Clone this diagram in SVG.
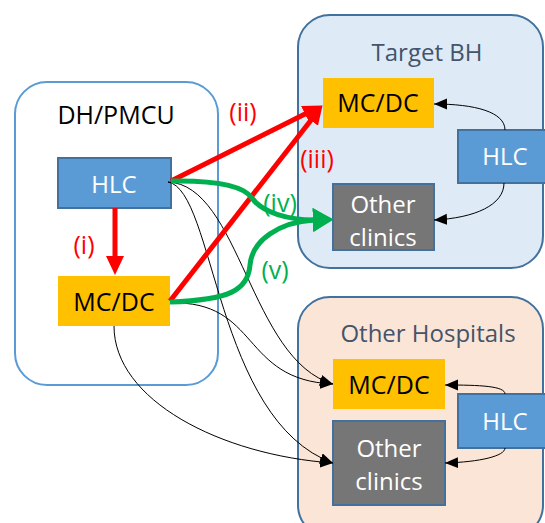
<svg xmlns="http://www.w3.org/2000/svg" width="545" height="523" viewBox="0 0 545 523">
<style>
text{font-family:"Open Sans","Liberation Sans",sans-serif;text-anchor:middle}
.grp{stroke-width:2}
.hlc{fill:#5B9BD5;stroke:#41719C;stroke-width:2}
.mc{fill:#FFC000}
.oc{fill:#767676;stroke:#41719C;stroke-width:2}
.wt{fill:#fff;font-size:24px}
.bt{fill:#000;font-size:25px}
.gl{fill:#44546A;font-size:24px}
.red{stroke:#FF0000;stroke-width:5;fill:none}
.grn{stroke:#00B050;stroke-width:5;fill:none}
.thin{stroke:#000;stroke-width:1;fill:none;marker-end:url(#ab)}
.rl{fill:#FF0000;font-size:25px}
.gn{fill:#00B050;font-size:25px}
</style>
<defs>
<marker id="ar" markerUnits="userSpaceOnUse" markerWidth="20" markerHeight="20" refX="1" refY="9" orient="auto"><path d="M0,0 L19,9 L0,18 z" fill="#FF0000"/></marker>
<marker id="ag" markerUnits="userSpaceOnUse" markerWidth="22" markerHeight="26" refX="1" refY="12" orient="auto"><path d="M0,0 L20,12 L0,24 z" fill="#00B050"/></marker>
<marker id="ab" markerUnits="userSpaceOnUse" markerWidth="14" markerHeight="12" refX="13" refY="5.5" orient="auto"><path d="M0,0 L13,5.5 L0,11 z" fill="#000"/></marker>
</defs>

<g id="dh">
<rect class="grp" x="15" y="82" width="203" height="303" rx="32" fill="#fff" stroke="#5B9BD5"/>
<text class="bt" x="116" y="124">DH/PMCU</text>
</g>
<g id="target">
<rect class="grp" x="298" y="15" width="245" height="253" rx="32" fill="#DEEBF7" stroke="#41719C"/>
<text class="gl" x="427" y="61">Target BH</text>
</g>
<g id="other-hospitals">
<rect class="grp" x="298" y="297" width="245" height="240" rx="32" fill="#FBE5D6" stroke="#41719C"/>
<text class="gl" x="428" y="342">Other Hospitals</text>
</g>

<g id="dh-hlc"><rect class="hlc" x="58" y="158" width="113" height="50"/><text class="wt" x="114" y="193">HLC</text></g>
<g id="dh-mcdc"><rect class="mc" x="58" y="276" width="112" height="50"/><text class="bt" x="114" y="311">MC/DC</text></g>

<g id="t-mcdc"><rect class="mc" x="323" y="78" width="111" height="50"/><text class="bt" x="378" y="112">MC/DC</text></g>
<g id="t-hlc"><rect class="hlc" x="458" y="130" width="95" height="53"/><text class="wt" x="505" y="165">HLC</text></g>
<g id="t-oc"><rect class="oc" x="333" y="184" width="101" height="66"/><text class="wt" x="383" y="213">Other</text><text class="wt" x="383" y="246">clinics</text></g>

<g id="o-mcdc"><rect class="mc" x="333" y="359" width="112" height="50"/><text class="bt" x="389" y="394">MC/DC</text></g>
<g id="o-hlc"><rect class="hlc" x="458" y="394" width="95" height="54"/><text class="wt" x="505" y="430">HLC</text></g>
<g id="o-oc"><rect class="oc" x="333" y="421" width="112" height="84"/><text class="wt" x="389" y="457">Other</text><text class="wt" x="389" y="490">clinics</text></g>

<g id="connectors">
<path class="thin" d="M168,182 C215,190 215,420 333,463"/>
<path class="thin" d="M168,182 C240,185 250,360 333,384"/>
<path class="thin" d="M170,303 C260,300 240,380 333,384"/>
<path class="thin" d="M114,326 C114,400 220,455 333,463"/>
<path class="thin" d="M505,130 C505,112 475,104 434,104"/>
<path class="thin" d="M504,183 C504,205 475,218 434,220"/>
<path class="thin" d="M505,394 C505,386 480,385 445,385"/>
<path class="thin" d="M505,448 C505,456 480,462 445,463"/>

<path class="red" d="M115,208 L115,257" marker-end="url(#ar)"/>
<path class="red" d="M171,181 L306,113.5" marker-end="url(#ar)"/>
<path class="red" d="M170,301 L311.5,119.5" marker-end="url(#ar)"/>

<path class="grn" d="M171,181 C225,180 245,188 252,198 C262,213 290,220 314,220" marker-end="url(#ag)"/>
<path class="grn" d="M170,302 C230,300 248,290 250,265 C252,240 280,222 314,220" marker-end="url(#ag)"/>
</g>

<g id="labels">
<text class="rl" x="84" y="254">(i)</text>
<text class="rl" x="243" y="121">(ii)</text>
<text class="rl" x="317" y="168">(iii)</text>
<text class="gn" x="280" y="212">(iv)</text>
<text class="gn" x="275" y="279">(v)</text>
</g>
</svg>
